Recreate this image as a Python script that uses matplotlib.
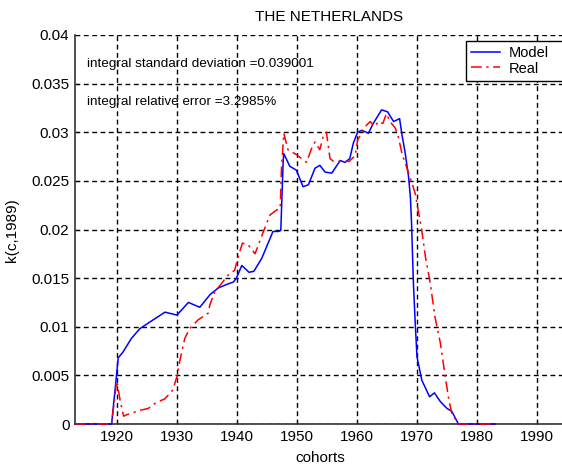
import matplotlib
matplotlib.use("Agg")
import matplotlib.pyplot as plt
from matplotlib.ticker import FormatStrFormatter

plt.rcParams['font.family'] = ['Liberation Sans', 'DejaVu Sans']

# ---- data ----
title = "THE NETHERLANDS"
xlabel = "cohorts"
ylabel = "k(c,1989)"
xticks = [1920, 1930, 1940, 1950, 1960, 1970, 1980, 1990]
yticks = [0, 0.005, 0.01, 0.015, 0.02, 0.025, 0.03, 0.035, 0.04]
annot1 = "integral standard deviation =0.039001"
annot2 = "integral relative error =3.2985%"

years_model = [1913, 1919.1, 1919.9, 1920.2, 1921, 1922.4, 1923.8, 1926, 1928, 1930,
               1931.9, 1933.8, 1935.5, 1936.9, 1938.5, 1939.4, 1939.9, 1940.8, 1942.0,
               1942.8, 1944.1, 1946.0, 1946.9, 1947.3, 1947.7, 1947.8, 1948.8, 1949.9,
               1951.0, 1951.9, 1953.0, 1953.8, 1954.7, 1955.8, 1957.2, 1958.0, 1958.8,
               1959.4, 1960.1, 1960.8, 1961.9, 1962.7, 1964.1, 1965.1, 1966.1, 1967.1,
               1967.5, 1968.0, 1968.6, 1968.9, 1969.1, 1969.4, 1969.7, 1970.0, 1970.8,
               1972.1, 1972.9, 1973.9, 1975.0, 1975.8, 1976.9, 1983]
model = [0, 0, 0.0049, 0.0068, 0.0074, 0.0088, 0.0098, 0.0107, 0.0115, 0.0112,
         0.0125, 0.0120, 0.0133, 0.0140, 0.0144, 0.0146, 0.0150, 0.0163, 0.0156,
         0.0157, 0.0170, 0.0198, 0.0198, 0.0199, 0.0271, 0.0278, 0.0265, 0.0261,
         0.0244, 0.0246, 0.0263, 0.0266, 0.0259, 0.0258, 0.0271, 0.0269, 0.0273,
         0.0289, 0.0300, 0.0302, 0.0299, 0.0309, 0.0323, 0.0321, 0.0311, 0.0314,
         0.0297, 0.0280, 0.0254, 0.0233, 0.0205, 0.0145, 0.0104, 0.0069, 0.0045,
         0.0028, 0.0032, 0.0023, 0.0016, 0.0013, 0, 0]

years_real = [1913, 1919.1, 1919.9, 1920.0, 1920.5, 1921.1, 1921.8, 1923.8, 1925.2,
              1926.3, 1928, 1929.3, 1930, 1930.5, 1931.3, 1932.1, 1933.5, 1935.2,
              1935.5, 1936.3, 1937.1, 1938.5, 1939.6, 1940.2, 1940.9, 1941.9, 1943.0,
              1944.1, 1945.5, 1946.6, 1947.2, 1947.4, 1947.8, 1948.5, 1949.9, 1951.6,
              1952.4, 1953.0, 1953.8, 1954.5, 1954.9, 1955.5, 1956.1, 1957.7, 1958.7,
              1959.7, 1960.1, 1961.4, 1962.2, 1962.9, 1963.6, 1964.3, 1964.9, 1965.5,
              1966.4, 1966.9, 1967.5, 1968.6, 1969.1, 1969.7, 1970.4, 1970.8, 1971.4,
              1972.2, 1973.0, 1973.9, 1974.7, 1975.3, 1975.8, 1976.9, 1983]
real = [0, 0, 0.0042, 0.0044, 0.0025, 0.0008, 0.0010, 0.0014, 0.0016,
        0.0021, 0.0026, 0.0035, 0.0049, 0.0066, 0.0088, 0.0098, 0.0107, 0.0114,
        0.0123, 0.0136, 0.0142, 0.0153, 0.0158, 0.0172, 0.0186, 0.0184, 0.0175,
        0.0193, 0.0215, 0.0220, 0.0222, 0.0261, 0.0299, 0.0282, 0.0277, 0.0269,
        0.0283, 0.0290, 0.0282, 0.0299, 0.0300, 0.0273, 0.0270, 0.0270, 0.0270,
        0.0276, 0.0292, 0.0306, 0.0311, 0.0306, 0.0311, 0.0309, 0.0319, 0.0311,
        0.0304, 0.0295, 0.0278, 0.0258, 0.0249, 0.0237, 0.0213, 0.0199, 0.0172,
        0.0145, 0.0110, 0.0083, 0.0049, 0.0025, 0.0011, 0, 0]

# ---- figure ----
W, H = 562, 468
fig = plt.figure(figsize=(W / 100, H / 100), dpi=100)
left, right, top, bottom = 75, 567, 35, 424
ax = fig.add_axes([left / W, 1 - bottom / H, (right - left) / W, (bottom - top) / H])

ax.plot(years_model, model, color='#0000ff', lw=1.1, label='Model', zorder=4, clip_on=False)
ax.plot(years_real, real, color='#ff0000', lw=1.1, dashes=(7, 3, 1.5, 3),
        label='Real', zorder=4, clip_on=False)

ax.set_xlim(1913, 1995)
ax.set_ylim(0, 0.04)
ax.set_xticks(xticks)
ax.set_yticks(yticks)
ax.yaxis.set_major_formatter(FormatStrFormatter('%g'))
ax.tick_params(direction='in', length=3, labelsize=11, colors='black', pad=4)

ax.grid(True, color='black', linestyle=(0, (3.5, 2.5)), linewidth=1.0)
ax.set_axisbelow(True)
for s in ['top', 'right']:
    ax.spines[s].set_visible(False)
for s in ['left', 'bottom']:
    ax.spines[s].set_color('#333333')
    ax.spines[s].set_linewidth(1.2)
    ax.spines[s].set_zorder(3)

fig.text(329 / W, 1 - 17 / H, title, ha='center', va='center', fontsize=11)
fig.text(320 / W, 1 - 458 / H, xlabel, ha='center', va='center', fontsize=11)
fig.text(12 / W, 1 - 230 / H, ylabel, ha='center', va='center', fontsize=11, rotation=90)

fig.text(87 / W, 1 - 64 / H, annot1, ha='left', va='center', fontsize=9.7)
fig.text(87 / W, 1 - 102 / H, annot2, ha='left', va='center', fontsize=9.7)

leg = ax.legend(loc='upper left', bbox_to_anchor=(466 / W, 1 - 41 / H, 110 / W, 0),
                bbox_transform=fig.transFigure, borderaxespad=0, fancybox=False,
                mode='expand',
                framealpha=1, edgecolor='black', fontsize=10.5, handlelength=2.0,
                labelspacing=0.1, borderpad=0.35, handletextpad=0.6)
leg.get_frame().set_linewidth(1.0)
leg.set_zorder(5)

fig.savefig('out.png', dpi=100)
